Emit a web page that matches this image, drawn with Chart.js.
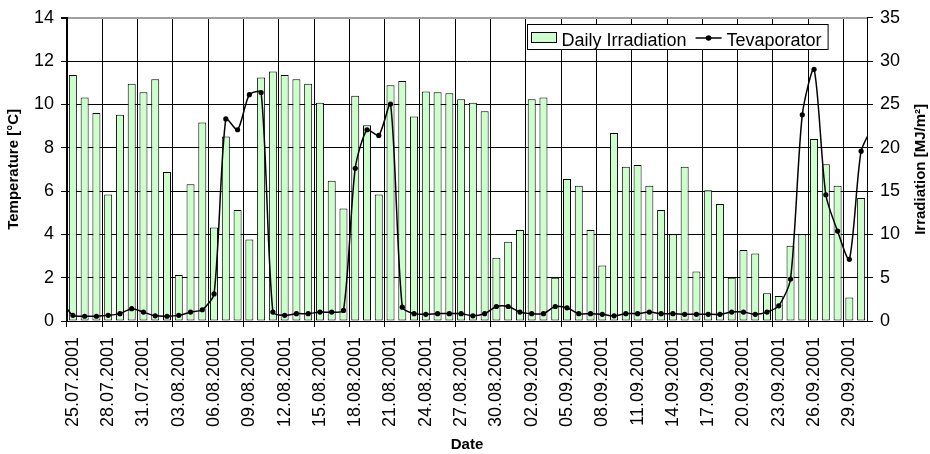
<!DOCTYPE html>
<html>
<head>
<meta charset="utf-8">
<title>Daily Irradiation and Tevaporator</title>
<script src="https://cdn.jsdelivr.net/npm/chart.js@4.4.1/dist/chart.umd.min.js"></script>
<style>
  html, body { margin: 0; padding: 0; background: #fff; }
  #wrap { width: 930px; height: 454px; }
</style>
</head>
<body>
<div id="wrap"><canvas id="chart" width="930" height="454"></canvas></div>
<script>
// Days on the category axis
const dates = [
  '25.07.2001','26.07.2001','27.07.2001','28.07.2001','29.07.2001','30.07.2001','31.07.2001',
  '01.08.2001','02.08.2001','03.08.2001','04.08.2001','05.08.2001','06.08.2001','07.08.2001',
  '08.08.2001','09.08.2001','10.08.2001','11.08.2001','12.08.2001','13.08.2001','14.08.2001',
  '15.08.2001','16.08.2001','17.08.2001','18.08.2001','19.08.2001','20.08.2001','21.08.2001',
  '22.08.2001','23.08.2001','24.08.2001','25.08.2001','26.08.2001','27.08.2001','28.08.2001',
  '29.08.2001','30.08.2001','31.08.2001','01.09.2001','02.09.2001','03.09.2001','04.09.2001',
  '05.09.2001','06.09.2001','07.09.2001','08.09.2001','09.09.2001','10.09.2001','11.09.2001',
  '12.09.2001','13.09.2001','14.09.2001','15.09.2001','16.09.2001','17.09.2001','18.09.2001',
  '19.09.2001','20.09.2001','21.09.2001','22.09.2001','23.09.2001','24.09.2001','25.09.2001',
  '26.09.2001','27.09.2001','28.09.2001','29.09.2001','30.09.2001'
];

// Daily irradiation [MJ/m²], one bar per day
const irradiation = [
  28.4, 25.8, 24.0, 14.6, 23.8, 27.4, 26.4,
  27.9, 17.2, 5.3, 15.8, 22.9, 10.8, 21.3,
  12.8, 9.4, 28.1, 28.8, 28.4, 27.9, 27.4,
  25.2, 16.2, 13.0, 26.0, 22.6, 14.6, 27.2,
  27.7, 23.6, 26.5, 26.4, 26.3, 25.6, 25.2,
  24.2, 7.3, 9.15, 10.5, 25.6, 25.8, 5.0,
  16.4, 15.6, 10.5, 6.4, 21.7, 17.8, 18.0,
  15.6, 12.8, 10.0, 17.8, 5.7, 15.1, 13.5,
  5.0, 8.2, 7.8, 3.2, 2.9, 8.7, 10.0,
  21.0, 18.1, 15.6, 2.7, 14.2
];

// Evaporator temperature [°C] from 24.07 to 01.10; the first and last days lie
// just outside the axis, so the smoothed curve runs on to both plot edges.
const tevaporator = [
  0.95,
  0.26, 0.22, 0.22, 0.26, 0.34, 0.57, 0.41,
  0.24, 0.22, 0.26, 0.41, 0.52, 1.25, 9.33,
  8.83, 10.45, 10.55, 0.41, 0.26, 0.34, 0.34,
  0.41, 0.41, 0.49, 7.05, 8.83, 8.57, 10.02,
  0.64, 0.34, 0.31, 0.34, 0.34, 0.34, 0.24,
  0.34, 0.67, 0.67, 0.41, 0.34, 0.34, 0.67,
  0.61, 0.34, 0.34, 0.31, 0.24, 0.34, 0.34,
  0.41, 0.34, 0.34, 0.31, 0.31, 0.31, 0.31,
  0.41, 0.41, 0.31, 0.41, 0.70, 1.94, 9.52,
  11.62, 5.83, 4.15, 2.85, 7.84,
  9.0
];

// Axis tick values
const temperatureTicks = [0, 2, 4, 6, 8, 10, 12, 14];
const irradiationTicks = [0, 5, 10, 15, 20, 25, 30, 35];
const labelEvery = 3;

const FONT = '"Liberation Sans", Arial, Helvetica, sans-serif';
Chart.defaults.font.family = FONT;
Chart.defaults.color = '#000';

// Line points sit at the middle of each day slot: day k (24.07 = -1) -> k + 0.5
const linePoints = tevaporator.map((v, k) => ({ x: k - 1 + 0.5, y: v }));

// Right-hand axis title, reading upwards like the left one
const rightTitle = {
  id: 'rightTitle',
  afterDraw(chart) {
    const s = chart.scales.y1;
    const ctx = chart.ctx;
    ctx.save();
    ctx.font = 'bold 15px ' + FONT;
    ctx.fillStyle = '#000';
    ctx.translate(s.right - 9, (s.top + s.bottom) / 2);
    ctx.rotate(-Math.PI / 2);
    ctx.textAlign = 'center';
    ctx.textBaseline = 'middle';
    ctx.fillText('Irradiation [MJ/m²]', 0, 0);
    ctx.restore();
  }
};

// Boxed legend inside the plot, top right
const boxLegend = {
  id: 'boxLegend',
  afterDraw(chart) {
    const ctx = chart.ctx;
    const ds = chart.data.datasets;
    const bars = ds.find(d => d.type === 'bar');
    const line = ds.find(d => d.type === 'line');
    ctx.save();
    ctx.font = '18px ' + FONT;
    const x0 = 527, y0 = 24, h = 25, mid = y0 + 14;
    const barText = ctx.measureText(bars.label).width;
    const lineText = ctx.measureText(line.label).width;
    const swX = x0 + 4.5, txt1 = swX + 30;
    const lnX = txt1 + barText + 9, txt2 = lnX + 31;
    const w = txt2 + lineText + 6 - x0;

    ctx.fillStyle = '#fff';
    ctx.fillRect(x0, y0, w, h);
    ctx.strokeStyle = '#000';
    ctx.lineWidth = 1;
    ctx.strokeRect(x0 + 0.5, y0 + 0.5, w, h);

    ctx.fillStyle = bars.backgroundColor;
    ctx.fillRect(swX, 32.5, 25, 10);
    ctx.strokeRect(swX, 32.5, 25, 10);

    ctx.fillStyle = '#000';
    ctx.textBaseline = 'alphabetic';
    ctx.fillText(bars.label, txt1, 45.5);

    ctx.strokeStyle = line.borderColor;
    ctx.lineWidth = line.borderWidth;
    ctx.beginPath();
    ctx.moveTo(lnX, mid);
    ctx.lineTo(lnX + 26, mid);
    ctx.stroke();
    ctx.fillStyle = line.pointBackgroundColor;
    ctx.beginPath();
    ctx.arc(lnX + 13, mid, 2.8, 0, Math.PI * 2);
    ctx.fill();

    ctx.fillStyle = '#000';
    ctx.fillText(line.label, txt2, 45.5);
    ctx.restore();
  }
};

const dayGrid = ctx => (ctx.index % labelEvery === 0 && ctx.index < dates.length) ? '#000' : 'rgba(0,0,0,0)';
const isTop = ctx => ctx.tick && ctx.tick.value === temperatureTicks[temperatureTicks.length - 1];

new Chart(document.getElementById('chart'), {
  type: 'bar',
  data: {
    labels: dates,
    datasets: [
      {
        type: 'line',
        label: 'Tevaporator',
        data: linePoints,
        xAxisID: 'xl',
        yAxisID: 'y',
        borderColor: '#000',
        borderWidth: 1.5,
        tension: 0.25,
        pointRadius: ctx => (ctx.raw && (ctx.raw.x < 0 || ctx.raw.x > dates.length)) ? 0 : 2.6,
        pointBackgroundColor: '#000',
        pointBorderWidth: 0,
        clip: 0,
        order: 1
      },
      {
        type: 'bar',
        label: 'Daily Irradiation',
        data: irradiation,
        xAxisID: 'x',
        yAxisID: 'y1',
        backgroundColor: '#ccffcc',
        borderColor: '#000',
        borderWidth: 1,
        borderSkipped: false,
        grouped: false,
        barPercentage: 0.68,
        categoryPercentage: 1.0,
        order: 2
      }
    ]
  },
  options: {
    responsive: false,
    animation: false,
    devicePixelRatio: 1,
    layout: { padding: { top: 15, left: 0, right: 0, bottom: 0 } },
    plugins: {
      legend: { display: false },
      tooltip: { enabled: false }
    },
    scales: {
      x: {
        type: 'category',
        position: 'bottom',
        offset: true,
        grid: {
          offset: true,
          color: dayGrid,
          tickColor: dayGrid,
          tickLength: 6,
          lineWidth: 1
        },
        border: { display: true, color: '#000', width: 1 },
        ticks: {
          autoSkip: false,
          minRotation: 90,
          maxRotation: 90,
          padding: 10,
          font: { size: 18 },
          callback: (v, i) => (i % labelEvery === 0 ? dates[i] : '')
        },
        title: {
          display: true,
          text: 'Date',
          font: { size: 15, weight: 'bold' },
          padding: { top: 0, bottom: 0 }
        },
        afterFit: s => { s.height = 133; }
      },
      xl: {
        type: 'linear',
        position: 'bottom',
        display: false,
        offset: false,
        grid: { offset: false },
        bounds: 'ticks',
        min: 0,
        max: dates.length
      },
      y: {
        type: 'linear',
        position: 'left',
        z: 1,
        min: temperatureTicks[0],
        max: temperatureTicks[temperatureTicks.length - 1],
        ticks: {
          stepSize: temperatureTicks[1] - temperatureTicks[0],
          padding: 7,
          font: { size: 18 }
        },
        grid: {
          color: ctx => isTop(ctx) ? '#a0a0a0' : '#000',
          lineWidth: ctx => isTop(ctx) ? 2 : 1,
          tickColor: '#000',
          tickLength: 6
        },
        border: { display: true, color: '#000', width: 1 },
        title: {
          display: true,
          text: 'Temperature [°C]',
          font: { size: 15, weight: 'bold' },
          padding: { top: 5, bottom: 0 }
        },
        afterFit: s => { s.width = 67; }
      },
      y1: {
        type: 'linear',
        position: 'right',
        min: irradiationTicks[0],
        max: irradiationTicks[irradiationTicks.length - 1],
        ticks: {
          stepSize: irradiationTicks[1] - irradiationTicks[0],
          padding: 7,
          font: { size: 18 }
        },
        grid: {
          drawOnChartArea: false,
          tickColor: '#000',
          tickLength: 6
        },
        border: { display: true, color: '#000', width: 1 },
        afterFit: s => { s.width = 63; }
      }
    }
  },
  plugins: [rightTitle, boxLegend]
});
</script>
</body>
</html>
